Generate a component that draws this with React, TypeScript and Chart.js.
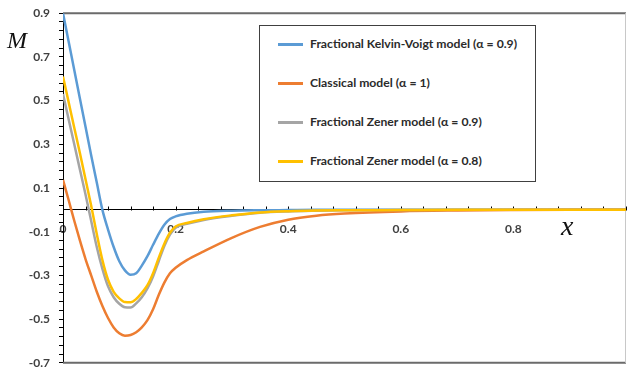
import React, { useEffect, useRef } from 'react';
import { Chart, registerables } from 'chart.js';
Chart.register(...registerables);

const X_VALUES = [0, 0.01, 0.02, 0.03, 0.04, 0.05, 0.06, 0.07, 0.08, 0.09, 0.1, 0.11, 0.12, 0.13, 0.14, 0.15, 0.16, 0.17, 0.18, 0.19, 0.2, 0.22, 0.25, 0.3, 0.35, 0.4, 0.45, 0.5, 0.6, 0.7, 0.8, 0.9, 1.0];
const KELVIN_VOIGT_09 = [0.9, 0.77, 0.64, 0.51, 0.38, 0.25, 0.125, 0.0, -0.09, -0.17, -0.235, -0.277, -0.297, -0.29, -0.255, -0.212, -0.16, -0.11, -0.068, -0.042, -0.03, -0.018, -0.009, -0.004, -0.002, -0.001, 0, 0, 0, 0, 0, 0, 0];
const CLASSICAL_1 = [0.137, 0.045, -0.05, -0.14, -0.225, -0.3, -0.375, -0.44, -0.495, -0.538, -0.565, -0.576, -0.573, -0.56, -0.538, -0.505, -0.455, -0.39, -0.333, -0.29, -0.265, -0.23, -0.19, -0.128, -0.078, -0.045, -0.027, -0.017, -0.007, -0.003, -0.001, 0, 0];
const ZENER_09 = [0.53, 0.415, 0.3, 0.185, 0.07, -0.05, -0.17, -0.27, -0.35, -0.4, -0.43, -0.446, -0.447, -0.428, -0.4, -0.36, -0.305, -0.235, -0.165, -0.113, -0.082, -0.064, -0.046, -0.027, -0.013, -0.007, -0.004, -0.002, -0.001, 0, 0, 0, 0];
const ZENER_08 = [0.61, 0.493, 0.376, 0.26, 0.14, 0.02, -0.11, -0.23, -0.32, -0.375, -0.405, -0.422, -0.423, -0.408, -0.38, -0.345, -0.29, -0.22, -0.155, -0.105, -0.076, -0.06, -0.043, -0.025, -0.012, -0.006, -0.003, -0.002, -0.001, 0, 0, 0, 0];

const SERIES_LABELS = [
  'Fractional Kelvin-Voigt model (α = 0.9)',
  'Classical model (α = 1)',
  'Fractional Zener model (α = 0.9)',
  'Fractional Zener model (α = 0.8)',
];
const SERIES_COLORS = ['#5B9BD5', '#ED7D31', '#A5A5A5', '#FFC000'];
const Y_TICK_LABELS = [-0.7, -0.5, -0.3, -0.1, 0.1, 0.3, 0.5, 0.7, 0.9];
const X_TICK_LABELS = [0, 0.2, 0.4, 0.6, 0.8];
const X_MIN = 0, X_MAX = 1, Y_MIN = -0.7, Y_MAX = 0.9;
const MINOR_STEP = 0.04;

const W = 627, H = 369;
const CANVAS_TOP = -3, CANVAS_H = 382;
const TICK_FONT = { family: 'Lato, "Liberation Sans", sans-serif', size: 12, weight: 'bold' as const };

function minorTicks(min: number, max: number) {
  const out: { value: number }[] = [];
  const n = Math.round((max - min) / MINOR_STEP);
  for (let i = 0; i <= n; i++) out.push({ value: +(min + i * MINOR_STEP).toFixed(4) });
  return out;
}

const decorPlugin = {
  id: 'decor',
  beforeDatasetsDraw(chart: any) {
    const { ctx, chartArea } = chart;
    const { left, right, top, bottom } = chartArea;
    ctx.save();
    ctx.strokeStyle = '#6b6b6b';
    ctx.lineWidth = 2;
    ctx.beginPath();
    ctx.moveTo(left, top); ctx.lineTo(right, top);
    ctx.moveTo(left, bottom); ctx.lineTo(right, bottom);
    ctx.stroke();
    ctx.strokeStyle = '#c8c8c8';
    ctx.lineWidth = 1;
    ctx.beginPath();
    ctx.moveTo(right - 0.5, top); ctx.lineTo(right - 0.5, bottom);
    ctx.stroke();
    const xs = chart.scales.x, ys = chart.scales.y;
    const y0 = Math.round(ys.getPixelForValue(0)) + 0.5;
    ctx.strokeStyle = '#000';
    ctx.beginPath();
    minorTicks(X_MIN, X_MAX).forEach((t) => {
      const px = Math.round(xs.getPixelForValue(t.value)) + 0.5;
      ctx.moveTo(px, y0); ctx.lineTo(px, y0 - 4);
    });
    ctx.stroke();
    ctx.restore();
  },
};

export default function App() {
  const ref = useRef<HTMLCanvasElement>(null);
  useEffect(() => {
    if (!ref.current) return;
    const series = [KELVIN_VOIGT_09, CLASSICAL_1, ZENER_09, ZENER_08];
    const chart = new Chart(ref.current, {
      type: 'line',
      data: {
        datasets: series.map((vals, i) => ({
          label: SERIES_LABELS[i],
          data: X_VALUES.map((x, j) => ({ x, y: vals[j] })),
          borderColor: SERIES_COLORS[i],
          backgroundColor: SERIES_COLORS[i],
          borderWidth: 2.5,
          pointRadius: 0,
          cubicInterpolationMode: 'monotone' as const,
          order: 3 - i,
        })),
      },
      options: {
        animation: false,
        responsive: false,
        devicePixelRatio: 1,
        layout: { padding: { left: 0, top: 13, right: 1, bottom: 6 } },
        plugins: { legend: { display: false }, tooltip: { enabled: false } },
        scales: {
          x: {
            type: 'linear',
            min: X_MIN,
            max: X_MAX,
            position: { y: 0 } as any,
            afterBuildTicks: (s: any) => { s.ticks = X_TICK_LABELS.map((v) => ({ value: v })); },
            grid: { drawOnChartArea: false, drawTicks: false },
            border: { display: true, color: '#000', width: 1 },
            ticks: {
              autoSkip: false,
              maxRotation: 0,
              padding: 12,
              color: '#404040',
              font: TICK_FONT,
              callback: (v: any) => String(+(+v).toFixed(1)),
            },
          },
          y: {
            type: 'linear',
            min: Y_MIN,
            max: Y_MAX,
            afterBuildTicks: (s: any) => { s.ticks = minorTicks(Y_MIN, Y_MAX); },
            afterFit: (s: any) => { s.width = 63; },
            grid: { drawOnChartArea: false, drawTicks: true, tickLength: 4, color: '#000' },
            border: { display: true, color: '#000', width: 1 },
            ticks: {
              autoSkip: false,
              padding: 9,
              color: '#404040',
              font: TICK_FONT,
              callback: (v: any) => {
                const n = +v;
                return Y_TICK_LABELS.some((t) => Math.abs(t - n) < 1e-6) ? n.toFixed(1) : '';
              },
            },
          },
        },
      },
      plugins: [decorPlugin],
    });
    return () => chart.destroy();
  }, []);

  const legendRows = [44, 83, 122, 161];
  return (
    <div style={{ position: 'fixed', left: 0, top: 0, width: W, height: H, background: '#fff', overflow: 'hidden' }}>
      <canvas ref={ref} width={W} height={CANVAS_H} style={{ position: 'absolute', left: 0, top: CANVAS_TOP, width: W, height: CANVAS_H }} />
      <span style={{ position: 'absolute', left: 7, top: 26, fontFamily: '"Liberation Serif", serif', fontStyle: 'italic', fontSize: 24, lineHeight: '28px', color: '#111' }}>M</span>
      <span style={{ position: 'absolute', left: 561, top: 212, fontFamily: '"Liberation Serif", serif', fontStyle: 'italic', fontSize: 28, lineHeight: '28px', color: '#111' }}>x</span>
      <div style={{ position: 'absolute', left: 259, top: 25, width: 277, height: 157, boxSizing: 'border-box', border: '1px solid #404040', background: '#fff' }} />
      {SERIES_LABELS.map((lab, i) => (
        <React.Fragment key={i}>
          <div style={{ position: 'absolute', left: 278, top: legendRows[i] - 1, width: 25, height: 3, background: SERIES_COLORS[i] }} />
          <div style={{ position: 'absolute', left: 310, top: legendRows[i] - 9, height: 18, lineHeight: '18px', whiteSpace: 'nowrap', fontFamily: 'Lato, "Liberation Sans", sans-serif', fontWeight: 'bold', fontSize: 12.2, color: '#2b2b2b' }}>{lab}</div>
        </React.Fragment>
      ))}
    </div>
  );
}
